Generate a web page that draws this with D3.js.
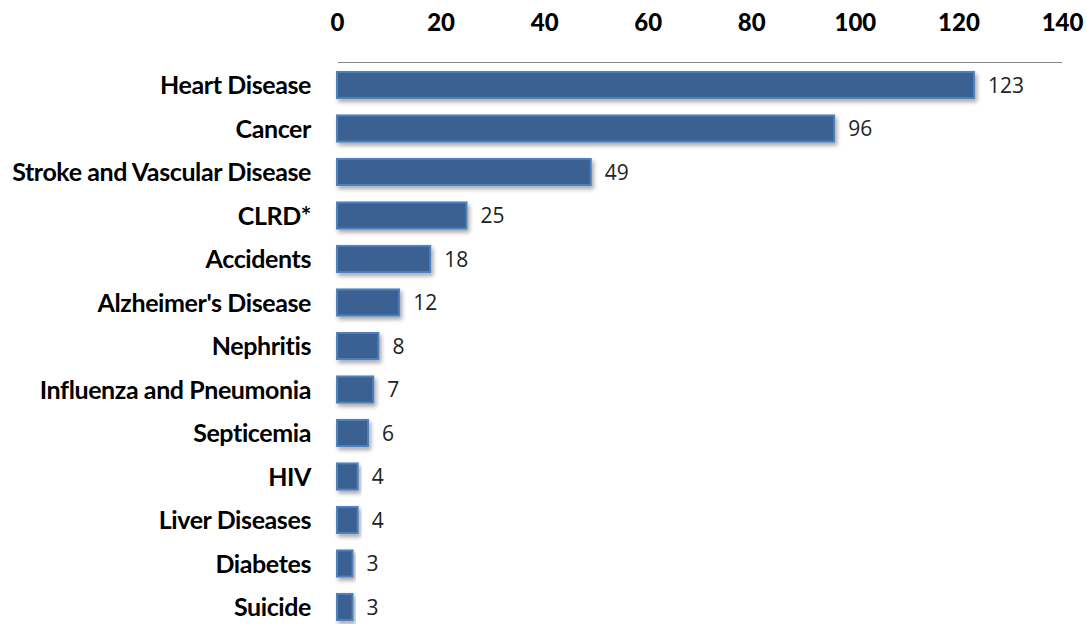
<!DOCTYPE html>
<html>
<head>
<meta charset="utf-8">
<script src="https://cdn.jsdelivr.net/npm/d3@7"></script>
<style>
  body { margin: 0; background: #fff; }
  svg { display: block; }
</style>
</head>
<body>
<div id="chart"></div>
<script>
var causes = ["Heart Disease", "Cancer", "Stroke and Vascular Disease", "CLRD*", "Accidents",
    "Alzheimer's Disease", "Nephritis", "Influenza and Pneumonia", "Septicemia", "HIV",
    "Liver Diseases", "Diabetes", "Suicide"];
var deaths = [123, 96, 49, 25, 18, 12, 8, 7, 6, 4, 4, 3, 3];
var tickValues = [0, 20, 40, 60, 80, 100, 120, 140];

var width = 1087,
    height = 624;

var svg = d3.select("#chart").append("svg").attr("width", width).attr("height", height);

var defs = svg.append("defs");
var shadow = defs.append("filter").attr("id", "shadow")
    .attr("x", "-10%").attr("y", "-30%").attr("width", "130%").attr("height", "180%");
shadow.append("feDropShadow")
    .attr("dx", 2).attr("dy", 3).attr("stdDeviation", 2)
    .attr("flood-color", "#000").attr("flood-opacity", 0.35);

var x = d3.scaleLinear().domain([0, 140]).range([337, 1062]);
var y = d3.scaleBand().domain(causes).range([63.25, 628.75])
    .paddingInner(0.4).paddingOuter(0.2);

// top axis
var xAxis = svg.append("g")
    .attr("transform", "translate(0,62)")
    .call(d3.axisTop(x).tickValues(tickValues).tickSize(0).tickPadding(31));
xAxis.select(".domain").attr("stroke", "#888").attr("stroke-width", 1);
xAxis.selectAll("text")
    .attr("font-family", "Lato, sans-serif")
    .attr("font-weight", "900")
    .attr("font-size", "24px")
    .attr("fill", "#000");

// bars
var data = causes.map(function (c, i) { return { name: c, value: deaths[i] }; });

svg.append("g")
    .selectAll("rect")
    .data(data)
    .join("rect")
    .attr("x", x(0))
    .attr("y", d => y(d.name))
    .attr("width", d => x(d.value) - x(0))
    .attr("height", y.bandwidth())
    .attr("fill", "#3a6092")
    .attr("stroke", "#4f81bd")
    .attr("stroke-width", 2)
    .attr("filter", "url(#shadow)");

// value labels
svg.append("g")
    .selectAll("text")
    .data(data)
    .join("text")
    .attr("x", d => x(d.value) + 14)
    .attr("y", d => y(d.name) + y.bandwidth() / 2)
    .attr("dy", "0.36em")
    .attr("font-family", "'Open Sans', sans-serif")
    .attr("font-size", "21px")
    .attr("fill", "#222")
    .text(d => d.value);

// category labels
svg.append("g")
    .selectAll("text")
    .data(data)
    .join("text")
    .attr("x", 311)
    .attr("y", d => y(d.name) + y.bandwidth() / 2)
    .attr("dy", "0.36em")
    .attr("text-anchor", "end")
    .attr("font-family", "Lato, sans-serif")
    .attr("font-weight", "bold")
    .attr("font-size", "25px")
    .attr("letter-spacing", "-0.4px")
    .attr("fill", "#000")
    .text(d => d.name);
</script>
</body>
</html>
